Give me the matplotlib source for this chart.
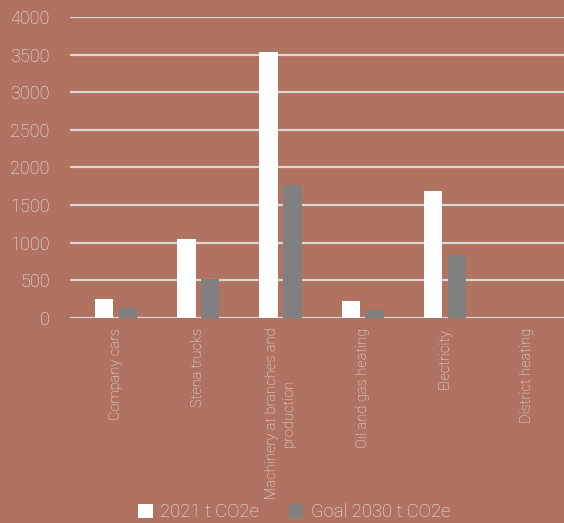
import numpy as np
import matplotlib.pyplot as plt

categories = ["Company cars", "Stena trucks", "Machinery at branches and\nproduction",
              "Oil and gas heating", "Electricity", "District heating"]
values_2021 = [250, 1050, 3535, 220, 1680, 0]
values_2030 = [125, 520, 1765, 105, 835, 0]
series_names = ["2021 t CO2e", "Goal 2030 t CO2e"]

bg = "#b07261"
txt = "#f5e8e4"
grid = "#dcd6d4"

plt.rcParams['font.family'] = ['Roboto', 'DejaVu Sans']
plt.rcParams['font.weight'] = 'light'

fig = plt.figure(figsize=(5.64, 5.23), dpi=100, facecolor=bg)
ax = fig.add_axes([70 / 564, 1 - 317.7 / 523, 498 / 564, (317.7 - 17) / 523])
ax.set_facecolor(bg)

x = np.arange(len(categories))
w = 0.225
ax.bar(x - 0.145, values_2021, w, color="white", label=series_names[0], zorder=3)
ax.bar(x + 0.145, values_2030, w, color="#808080", label=series_names[1], zorder=3)

ax.set_ylim(0, 4000)
ax.set_xlim(-0.559, 5.496)
ax.set_yticks(np.arange(0, 4001, 500))
ax.yaxis.grid(True, color=grid, linewidth=1.6, zorder=0)
for s in ax.spines.values():
    s.set_visible(False)
ax.tick_params(axis="y", length=0, pad=14.5, labelsize=13, labelcolor=txt)
ax.tick_params(axis="x", length=0, pad=7, labelsize=10.5, labelcolor=txt)
ax.set_xticks(x)
ax.set_xticklabels(categories, rotation=90, ha="center", va="top", multialignment="center")

fig.legend(loc="center", bbox_to_anchor=(294 / 564, 1 - 512 / 523), ncol=2, frameon=False,
           fontsize=13.3, labelcolor=txt, handlelength=0.8, handleheight=0.8,
           handletextpad=0.4, columnspacing=1.6)

fig.savefig("out.png", dpi=100, facecolor=bg)
